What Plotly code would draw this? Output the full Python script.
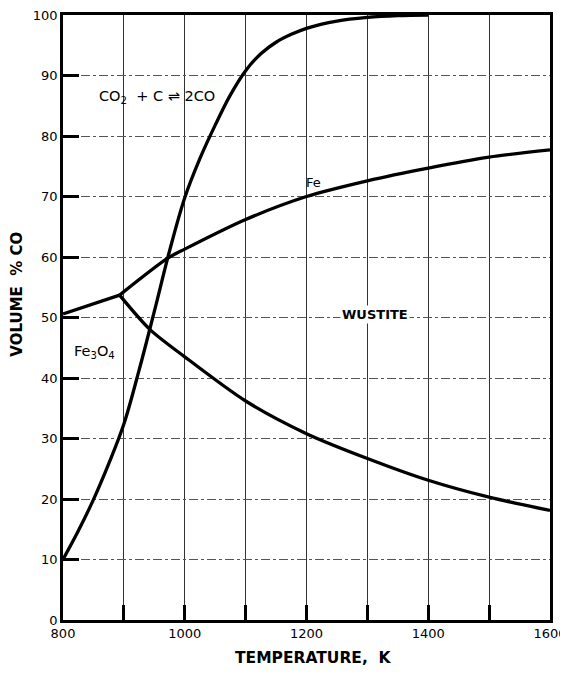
import plotly.graph_objects as go

# Boudouard equilibrium CO2 + C <=> 2CO
boud_T = [800, 825, 850, 875, 900, 925, 950, 975, 1000, 1025, 1050, 1075, 1100, 1125, 1150, 1175, 1200, 1250, 1300, 1350, 1400]
boud_CO = [10, 14.7, 19.9, 25.8, 32.4, 41.3, 51.0, 61.0, 69.8, 76.3, 81.8, 86.8, 90.8, 93.6, 95.5, 96.8, 97.8, 99.0, 99.6, 99.9, 100]

# Fe3O4 / Fe boundary (below triple point)
fe3o4_fe_T = [800, 893]
fe3o4_fe_CO = [50.6, 53.7]

# Wustite / Fe boundary
wus_fe_T = [893, 972, 1000, 1100, 1200, 1300, 1400, 1500, 1600]
wus_fe_CO = [53.7, 59.8, 61.3, 66.2, 70.0, 72.6, 74.7, 76.5, 77.7]

# Fe3O4 / Wustite boundary
mag_wus_T = [893, 943, 1000, 1100, 1200, 1300, 1400, 1500, 1600]
mag_wus_CO = [53.7, 48.0, 43.5, 36.2, 30.8, 26.7, 23.1, 20.3, 18.1]

x_tickvals = [800, 900, 1000, 1100, 1200, 1300, 1400, 1500, 1600]
x_ticktext = ["800", "", "1000", "", "1200", "", "1400", "", "1600"]
y_tickvals = [0, 10, 20, 30, 40, 50, 60, 70, 80, 90, 100]

line = dict(color="black", width=3.3)
fig = go.Figure()
fig.add_trace(go.Scatter(x=boud_T, y=boud_CO, mode="lines", line=dict(**line, shape="spline", smoothing=1.0)))
fig.add_trace(go.Scatter(x=fe3o4_fe_T, y=fe3o4_fe_CO, mode="lines", line=line))
fig.add_trace(go.Scatter(x=wus_fe_T, y=wus_fe_CO, mode="lines", line=dict(**line, shape="spline", smoothing=0.8)))
fig.add_trace(go.Scatter(x=mag_wus_T, y=mag_wus_CO, mode="lines", line=dict(**line, shape="spline", smoothing=0.8)))

fam = "DejaVu Sans"
fig.add_annotation(x=955, y=86.4, text="CO<sub>2</sub>  + C ⇌ 2CO", showarrow=False,
                   font=dict(family=fam, size=14.5, color="black"))
fig.add_annotation(x=1212, y=72.3, text="Fe", showarrow=False,
                   font=dict(family=fam, size=13, color="black"))
fig.add_annotation(x=1312, y=50.5, text="<b>WUSTITE</b>", showarrow=False,
                   font=dict(family=fam, size=13, color="black"), bgcolor="white")
fig.add_annotation(x=852, y=44.3, text="Fe<sub>3</sub>O<sub>4</sub>", showarrow=False,
                   font=dict(family=fam, size=14.5, color="black"))

# axis titles
fig.add_annotation(xref="paper", yref="paper", x=-0.095, y=0.539, xanchor="center", yanchor="middle",
                   text="<b>VOLUME  % CO</b>", textangle=-90, showarrow=False,
                   font=dict(family=fam, size=15, color="black"))
fig.add_annotation(xref="paper", yref="paper", x=0.515, y=-0.0626, xanchor="center", yanchor="middle",
                   text="<b>TEMPERATURE,  K</b>", showarrow=False,
                   font=dict(family=fam, size=15.5, color="black"))

fig.update_layout(
    width=560, height=670,
    margin=dict(l=55, r=18, t=7, b=58),
    plot_bgcolor="white", paper_bgcolor="white",
    showlegend=False,
    xaxis=dict(
        range=[800, 1600], tickvals=x_tickvals, ticktext=x_ticktext,
        showgrid=True, gridcolor="#333", gridwidth=1,
        showline=True, linecolor="black", linewidth=2.5, mirror=True,
        ticks="inside", ticklen=15, tickwidth=2.5, tickcolor="black",
        tickfont=dict(family=fam, size=13, color="black"),
        zeroline=False, automargin=False, ticklabeloverflow="allow",
    ),
    yaxis=dict(
        range=[0, 100], tickvals=y_tickvals,
        showgrid=True, gridcolor="#555", gridwidth=1, griddash="dashdot",
        showline=True, linecolor="black", linewidth=2.5, mirror=True,
        ticks="inside", ticklen=16, tickwidth=2.5, tickcolor="black",
        tickfont=dict(family=fam, size=13, color="black"),
        zeroline=False, automargin=False, ticklabeloverflow="allow",
    ),
)

fig.write_html("out.html")
